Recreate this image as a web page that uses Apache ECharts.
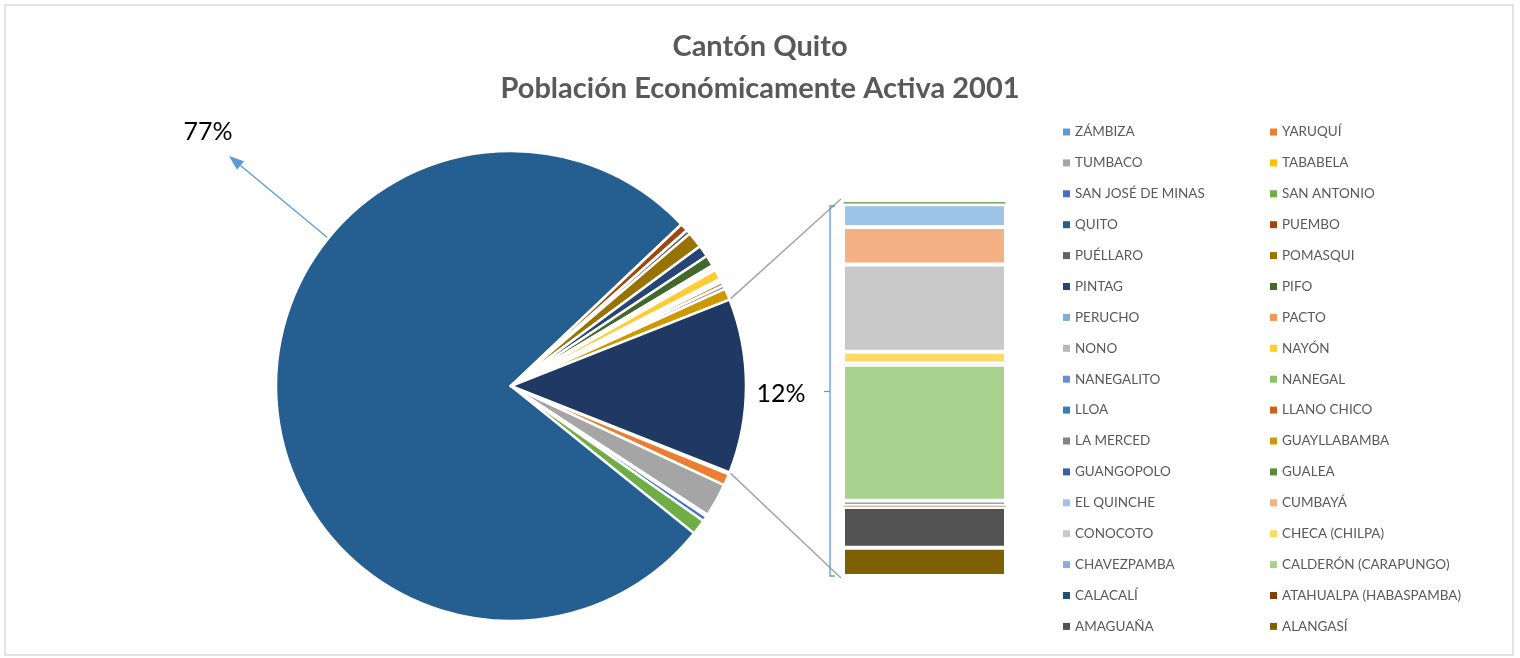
<!DOCTYPE html>
<html>
<head>
<meta charset="utf-8">
<script src="https://cdn.jsdelivr.net/npm/echarts@6/dist/echarts.min.js"></script>
<style>
  html, body { margin: 0; padding: 0; background: #fff; }
  #chart { width: 1520px; height: 658px; }
</style>
</head>
<body>
<div id="chart"></div>
<script>
// slices shown in the pie (percent of PEA)
const pieNames = ['ZÁMBIZA', 'YARUQUÍ', 'TUMBACO', 'TABABELA', 'SAN JOSÉ DE MINAS', 'SAN ANTONIO', 'QUITO',
  'PUEMBO', 'PUÉLLARO', 'POMASQUI', 'PINTAG', 'PIFO', 'PERUCHO', 'PACTO', 'NONO', 'NAYÓN',
  'NANEGALITO', 'NANEGAL', 'LLOA', 'LLANO CHICO', 'LA MERCED', 'GUAYLLABAMBA']
const pieValues = [0.15, 0.8, 2.3, 0.15, 0.35, 1.05, 77.1,
  0.55, 0.3, 1.1, 0.8, 0.75, 0.15, 0.1, 0.1, 0.7,
  0.08, 0.08, 0.08, 0.25, 0.25, 0.8]
const pieColors = ['#5B9BD5', '#ED7D31', '#A5A5A5', '#FFC000', '#4472C4', '#70AD47', '#255E91',
  '#9E480E', '#636363', '#997300', '#264478', '#43682B', '#7CAFDD', '#F1975A', '#B7B7B7', '#FFCD33',
  '#698ED0', '#8CC168', '#327DC2', '#D26012', '#848484', '#CC9A00']

// slices grouped in the stacked bar
const barNames = ['GUANGOPOLO', 'GUALEA', 'EL QUINCHE', 'CUMBAYÁ', 'CONOCOTO', 'CHECA (CHILPA)', 'CHAVEZPAMBA',
  'CALDERÓN (CARAPUNGO)', 'CALACALÍ', 'ATAHUALPA (HABASPAMBA)', 'AMAGUAÑA', 'ALANGASÍ']
const barValues = [0.02, 0.08, 0.73, 1.2, 2.78, 0.38, 0.04, 4.34, 0.15, 0.05, 1.3, 0.9]
const barColors = ['#3A5DAE', '#5A8A39', '#9DC3E6', '#F4B183', '#C9C9C9', '#FFD966', '#8FAADC',
  '#A9D18E', '#1F4E79', '#843C0C', '#525252', '#7F6000']

const otherName = 'Otras'
const otherColor = '#203864'

const legendOrder = pieNames.concat(barNames)

const chart = echarts.init(document.getElementById('chart'))

const center = [511, 386]
const radius = 235
const barBox = {left: 843, top: 201, width: 163, height: 375}
const font = 'Lato, "Open Sans", sans-serif'

const otherTotal = barValues.reduce((a, b) => a + b, 0)
const total = pieValues.reduce((a, b) => a + b, 0) + otherTotal
const halfOther = otherTotal / total * 180

function pct(v) {
  return Math.round(v / total * 100) + '%'
}

function arrow(x1, y1, x2, y2, color) {
  const dx = x2 - x1, dy = y2 - y1
  const len = Math.sqrt(dx * dx + dy * dy)
  const ux = dx / len, uy = dy / len
  const head = 15, half = 5.5
  const bx = x2 - ux * head, by = y2 - uy * head
  return [
    {type: 'line', shape: {x1: x1, y1: y1, x2: bx, y2: by}, style: {stroke: color, lineWidth: 1.3}},
    {
      type: 'polygon',
      shape: {points: [[x2, y2], [bx - uy * half, by + ux * half], [bx + uy * half, by - ux * half]]},
      style: {fill: color}
    }
  ]
}

function buildGraphic() {
  const a = halfOther * Math.PI / 180
  const px = center[0] + radius * Math.cos(a)
  const pyTop = center[1] - radius * Math.sin(a)
  const pyBot = center[1] + radius * Math.sin(a)
  const barTop = barBox.top
  const barBot = barBox.top + barBox.height
  const bracketX = 830
  const midY = (barTop + barBot) / 2
  const bracketColor = '#5B9BD5'
  let items = [
    {type: 'rect', shape: {x: 5, y: 5, width: 1508, height: 650}, style: {fill: 'none', stroke: '#D9D9D9', lineWidth: 1.5}},
    {type: 'line', shape: {x1: px, y1: pyTop, x2: barBox.left - 2, y2: barTop - 2}, style: {stroke: '#A5A5A5', lineWidth: 1.5}},
    {type: 'line', shape: {x1: px, y1: pyBot, x2: barBox.left - 2, y2: barBot + 2}, style: {stroke: '#A5A5A5', lineWidth: 1.5}},
    {
      type: 'polyline',
      shape: {points: [[bracketX + 5, barTop + 5], [bracketX, barTop + 5], [bracketX, barBot], [bracketX + 5, barBot]]},
      style: {stroke: bracketColor, lineWidth: 1.3, fill: 'none'}
    },
    {type: 'line', shape: {x1: bracketX - 6, y1: midY + 3, x2: bracketX, y2: midY + 3}, style: {stroke: bracketColor, lineWidth: 1.3}},
    {
      type: 'text', x: 781, y: 394,
      style: {text: pct(otherTotal), font: '25px ' + font, fill: '#000', align: 'center', verticalAlign: 'middle'}
    },
    {
      type: 'text', x: 208, y: 132,
      style: {text: pct(pieValues[pieNames.indexOf('QUITO')]), font: '25px ' + font, fill: '#000', align: 'center', verticalAlign: 'middle'}
    }
  ]
  items = items.concat(arrow(399, 297, 229, 156, '#5B9BD5'))
  return items
}

function legendColumn(names, left) {
  return {
    orient: 'vertical',
    left: left,
    top: 119,
    data: names,
    icon: 'rect',
    itemWidth: 7,
    itemHeight: 7,
    itemGap: 14.9,
    itemStyle: {borderWidth: 0},
    selectedMode: false,
    textStyle: {fontFamily: font, fontSize: 13.5, color: '#595959', lineHeight: 16, padding: [0, 0, 0, 0]}
  }
}

function setOptions() {
  const pieData = pieNames.map((n, i) => ({name: n, value: pieValues[i], itemStyle: {color: pieColors[i]}}))
  pieData.push({name: otherName, value: otherTotal, itemStyle: {color: otherColor}})

  const barSeries = barNames.map((n, i) => ({
    name: n,
    type: 'bar',
    stack: 'otras',
    barWidth: '100%',
    xAxisIndex: 0,
    yAxisIndex: 0,
    data: [barValues[i]],
    // very thin pieces keep a thin border so they stay visible
    itemStyle: {color: barColors[i], borderColor: '#fff', borderWidth: barValues[i] < 0.1 ? 0.6 : 2},
    emphasis: {disabled: true}
  }))

  chart.setOption({
    animation: false,
    title: {
      text: 'Cantón Quito\nPoblación Económicamente Activa 2001',
      left: 'center',
      top: 21,
      textStyle: {fontFamily: font, fontSize: 29, fontWeight: 'bold', color: '#595959', lineHeight: 42}
    },
    legend: [
      legendColumn(legendOrder.filter((_, i) => i % 2 === 0), 1058),
      legendColumn(legendOrder.filter((_, i) => i % 2 === 1), 1265)
    ],
    grid: {left: barBox.left, top: barBox.top, width: barBox.width, height: barBox.height, containLabel: false},
    xAxis: {type: 'category', data: [''], show: false},
    yAxis: {type: 'value', min: 0, max: otherTotal, inverse: true, show: false},
    series: [
      {
        name: 'PEA 2001',
        type: 'pie',
        center: center,
        radius: radius,
        startAngle: 360 - halfOther,
        clockwise: true,
        minAngle: 0,
        avoidLabelOverlap: false,
        label: {show: false},
        labelLine: {show: false},
        emphasis: {disabled: true},
        itemStyle: {borderColor: '#fff', borderWidth: 2.5},
        data: pieData
      }
    ].concat(barSeries),
    graphic: buildGraphic()
  })
}

setOptions()
</script>
</body>
</html>
